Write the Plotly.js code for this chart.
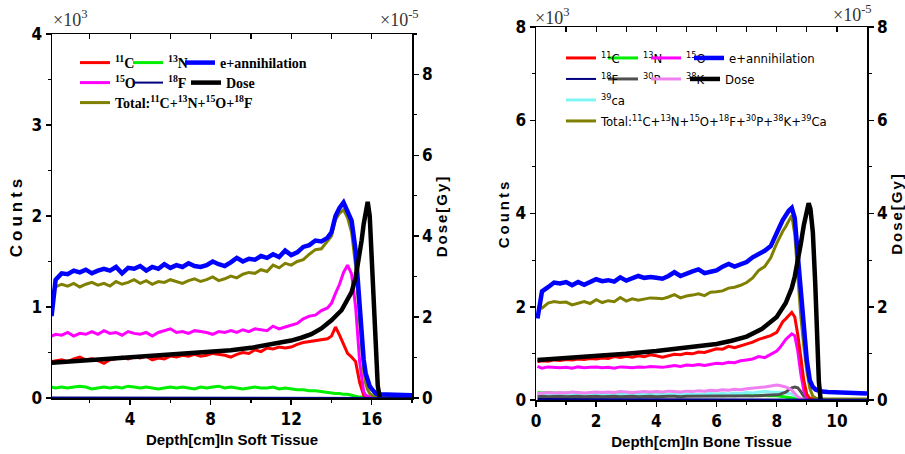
<!DOCTYPE html>
<html><head><meta charset="utf-8">
<script src="https://cdn.plot.ly/plotly-3.0.1.min.js"></script>
<style>
html,body{margin:0;padding:0;background:#fff;}
#chart{width:905px;height:454px;}
.ytitle{letter-spacing:4px;}
.y2title{letter-spacing:2px;}
.y3title{letter-spacing:3px;}
.y4title{letter-spacing:2px;}
</style>
</head><body><div id="chart"></div>
<script>
// ---------------- Soft tissue panel (counts in 10^3, dose in 10^-5 Gy) ----------------
var softX = [0.1,0.3,0.6,0.9,1.2,1.5,1.8,2.1,2.4,2.7,
  3.0,3.3,3.6,3.9,4.2,4.5,4.8,5.1,5.4,5.7,
  6.0,6.3,6.6,6.9,7.2,7.5,7.8,8.1,8.4,8.7,
  9.0,9.3,9.6,9.9,10.2,10.5,10.8,11.1,11.4,11.7,
  12.0,12.3,12.6,12.9,13.2,13.5,13.8,14.0,14.2,14.4,
  14.6,14.8,15.0,15.2,15.4,15.6,15.7,15.8,15.9,16.0,
  16.1,16.2,16.3,16.4,16.5,16.8,17.1,17.4,17.7,18.0];
var softAnnih = [0.90,1.30,1.37,1.36,1.40,1.38,1.41,1.37,1.40,1.42,
  1.40,1.44,1.37,1.43,1.42,1.45,1.40,1.44,1.42,1.47,
  1.43,1.46,1.44,1.48,1.45,1.44,1.46,1.50,1.47,1.45,
  1.49,1.54,1.50,1.53,1.52,1.56,1.54,1.58,1.55,1.62,
  1.57,1.60,1.66,1.68,1.73,1.72,1.76,1.82,2.00,2.09,
  2.15,2.06,1.95,1.62,1.00,0.42,0.27,0.19,0.13,0.10,
  0.07,0.05,0.04,0.04,0.03,0.04,0.03,0.04,0.03,0.03];
var softTotal = [1.15,1.22,1.25,1.23,1.26,1.22,1.25,1.27,1.24,1.26,
  1.23,1.28,1.25,1.27,1.30,1.26,1.29,1.25,1.28,1.27,
  1.30,1.28,1.26,1.29,1.31,1.28,1.30,1.33,1.29,1.31,
  1.34,1.32,1.36,1.38,1.37,1.41,1.39,1.46,1.43,1.48,
  1.46,1.50,1.52,1.58,1.63,1.64,1.72,1.78,1.96,2.03,
  2.07,1.98,1.82,1.45,0.85,0.30,0.16,0.09,0.05,0.03,
  0.02,0.01,0.01,0.01,0.01,0.01,0.01,0.01,0.01,0.01];
var softO15 = [0.68,0.70,0.69,0.72,0.68,0.71,0.70,0.73,0.70,0.74,
  0.71,0.72,0.69,0.73,0.71,0.70,0.72,0.68,0.72,0.74,
  0.76,0.72,0.73,0.71,0.74,0.73,0.72,0.70,0.73,0.72,
  0.74,0.72,0.75,0.73,0.76,0.75,0.74,0.79,0.76,0.78,
  0.80,0.82,0.87,0.90,0.91,0.96,0.99,1.04,1.15,1.25,
  1.38,1.46,1.36,1.00,0.40,0.07,0.03,0.02,0.01,0.01,
  0.01,0.01,0.01,0.01,0.01,0.01,0.01,0.01,0.01,0.01];
var softC11 = [0.40,0.41,0.42,0.40,0.43,0.45,0.42,0.43,0.41,0.38,
  0.42,0.43,0.45,0.43,0.45,0.44,0.46,0.42,0.44,0.43,
  0.46,0.45,0.47,0.46,0.48,0.46,0.47,0.49,0.48,0.47,
  0.45,0.48,0.50,0.49,0.53,0.51,0.55,0.54,0.56,0.55,
  0.56,0.59,0.61,0.62,0.63,0.64,0.65,0.68,0.78,0.69,
  0.58,0.49,0.45,0.40,0.17,0.03,0.02,0.02,0.01,0.01,
  0.01,0.01,0.00,0.00,0.00,0.00,0.00,0.00,0.00,0.00];
var softN13 = [0.12,0.11,0.12,0.11,0.12,0.13,0.12,0.10,0.11,0.12,
  0.11,0.12,0.11,0.13,0.12,0.11,0.12,0.11,0.10,0.11,
  0.12,0.11,0.12,0.11,0.10,0.12,0.11,0.12,0.13,0.11,
  0.12,0.11,0.10,0.11,0.12,0.11,0.11,0.12,0.10,0.11,
  0.10,0.09,0.09,0.08,0.08,0.07,0.06,0.06,0.05,0.05,
  0.04,0.04,0.03,0.02,0.01,0.01,0.00,0.00,0.00,0.00,
  0.00,0.00,0.00,0.00,0.00,0.00,0.00,0.00,0.00,0.00];
var softF18X = [0.1,4,8,12,16,18];
var softF18 = [0.006,0.005,0.006,0.004,0.002,0.001];
var softDoseX = [0.1,1,2,3,4,5,6,7,8,9,
  10,11,12,12.5,13,13.5,14,14.5,14.8,15.0,
  15.2,15.4,15.5,15.6,15.7,15.8,15.9,15.95,16.05,16.1,
  16.2,16.3,16.4];
var softDose = [0.87,0.90,0.93,0.97,1.00,1.03,1.06,1.09,1.13,1.18,
  1.24,1.32,1.42,1.49,1.58,1.72,1.92,2.17,2.42,2.62,
  2.98,3.50,3.90,4.30,4.68,4.85,4.50,3.95,2.75,2.10,
  1.10,0.30,0.00];

// ---------------- Bone tissue panel ----------------
var boneX = [0.05,0.2,0.4,0.6,0.8,1.0,1.2,1.4,1.6,1.8,
  2.0,2.2,2.4,2.6,2.8,3.0,3.2,3.4,3.6,3.8,
  4.0,4.2,4.4,4.6,4.8,5.0,5.2,5.4,5.6,5.8,
  6.0,6.2,6.4,6.6,6.8,7.0,7.2,7.4,7.6,7.8,
  8.0,8.1,8.2,8.3,8.4,8.5,8.6,8.7,8.8,8.9,
  9.0,9.1,9.2,9.3,9.4,9.5,9.7,10.0,10.3,10.6,
  11.0];
var boneAnnih = [1.75,2.33,2.42,2.52,2.50,2.53,2.46,2.53,2.47,2.52,
  2.59,2.55,2.57,2.54,2.63,2.56,2.61,2.66,2.62,2.64,
  2.62,2.60,2.66,2.74,2.66,2.72,2.76,2.80,2.72,2.75,
  2.78,2.86,2.92,2.86,2.90,2.96,3.06,3.12,3.20,3.30,
  3.55,3.72,3.86,3.98,4.06,4.12,3.90,3.10,2.30,1.50,
  0.85,0.42,0.28,0.22,0.20,0.18,0.17,0.16,0.16,0.15,
  0.14];
var boneTotal = [2.00,1.97,2.08,2.11,2.09,2.10,2.04,2.08,2.11,2.07,
  2.15,2.09,2.13,2.11,2.20,2.12,2.17,2.14,2.16,2.19,
  2.18,2.17,2.21,2.26,2.19,2.23,2.25,2.28,2.24,2.31,
  2.32,2.34,2.40,2.42,2.46,2.52,2.62,2.78,2.86,3.05,
  3.36,3.50,3.62,3.72,3.84,3.96,3.55,2.60,1.80,1.15,
  0.62,0.25,0.08,0.04,0.03,0.02,0.02,0.02,0.02,0.02,
  0.02];
var boneC11 = [0.82,0.84,0.83,0.86,0.85,0.87,0.86,0.88,0.87,0.89,
  0.88,0.90,0.89,0.93,0.91,0.94,0.92,0.95,0.93,0.97,
  0.95,0.92,0.95,0.98,0.97,1.00,0.99,1.03,1.02,1.06,
  1.10,1.09,1.15,1.12,1.16,1.21,1.24,1.30,1.34,1.38,
  1.45,1.58,1.68,1.74,1.80,1.88,1.78,1.40,0.92,0.42,
  0.12,0.04,0.02,0.01,0.01,0.01,0.01,0.01,0.01,0.01,
  0.01];
var boneO15 = [0.72,0.68,0.71,0.70,0.69,0.70,0.68,0.71,0.69,0.70,
  0.71,0.69,0.70,0.68,0.71,0.70,0.69,0.71,0.70,0.72,
  0.71,0.70,0.72,0.74,0.72,0.75,0.74,0.76,0.74,0.77,
  0.79,0.78,0.81,0.80,0.84,0.86,0.88,0.93,0.91,0.98,
  1.05,1.12,1.22,1.30,1.36,1.42,1.38,1.05,0.56,0.20,
  0.05,0.02,0.01,0.01,0.01,0.01,0.01,0.01,0.01,0.01,
  0.01];
var boneN13 = [0.16,0.15,0.16,0.15,0.14,0.15,0.14,0.15,0.14,0.13,
  0.14,0.13,0.14,0.13,0.12,0.13,0.12,0.13,0.12,0.12,
  0.11,0.12,0.11,0.12,0.11,0.10,0.11,0.10,0.11,0.10,
  0.10,0.09,0.10,0.09,0.10,0.09,0.09,0.10,0.09,0.09,
  0.09,0.08,0.08,0.07,0.06,0.05,0.04,0.02,0.01,0.00,
  0.00,0.00,0.00,0.00,0.00,0.00,0.00,0.00,0.00,0.00,
  0.00];
var boneCa39 = [0.11,0.12,0.11,0.12,0.11,0.12,0.12,0.11,0.12,0.11,
  0.12,0.11,0.12,0.12,0.11,0.12,0.11,0.12,0.12,0.11,
  0.12,0.11,0.12,0.13,0.12,0.12,0.13,0.12,0.13,0.14,
  0.13,0.14,0.13,0.15,0.14,0.16,0.15,0.17,0.18,0.17,
  0.17,0.16,0.16,0.15,0.14,0.13,0.10,0.06,0.03,0.01,
  0.00,0.00,0.00,0.00,0.00,0.00,0.00,0.00,0.00,0.00,
  0.00];
var boneK38 = [0.14,0.15,0.16,0.15,0.16,0.15,0.17,0.16,0.15,0.16,
  0.17,0.16,0.17,0.16,0.18,0.17,0.16,0.17,0.18,0.17,
  0.18,0.17,0.19,0.18,0.17,0.19,0.18,0.20,0.19,0.21,
  0.20,0.22,0.21,0.23,0.22,0.24,0.25,0.27,0.28,0.30,
  0.32,0.31,0.30,0.28,0.25,0.21,0.14,0.07,0.03,0.01,
  0.00,0.00,0.00,0.00,0.00,0.00,0.00,0.00,0.00,0.00,
  0.00];
var boneP30 = [0.07,0.08,0.07,0.08,0.08,0.07,0.08,0.08,0.07,0.08,
  0.08,0.07,0.08,0.08,0.07,0.08,0.08,0.07,0.08,0.08,
  0.07,0.08,0.08,0.08,0.07,0.08,0.08,0.08,0.09,0.08,
  0.08,0.09,0.08,0.09,0.09,0.08,0.09,0.09,0.10,0.10,
  0.11,0.12,0.14,0.17,0.22,0.26,0.28,0.26,0.18,0.08,
  0.03,0.01,0.00,0.00,0.00,0.00,0.00,0.00,0.00,0.00,
  0.00];
var boneF18X = [0.05,3,6,8.5,9.5,11];
var boneF18 = [0.02,0.02,0.02,0.02,0.005,0.005];
var boneDoseX = [0.05,1,2,3,4,5,6,6.5,7,7.5,
  8.0,8.3,8.5,8.6,8.7,8.8,8.9,9.0,9.06,9.12,
  9.2,9.28,9.34,9.4,9.46];
var boneDose = [0.86,0.90,0.94,0.99,1.05,1.12,1.20,1.27,1.36,1.52,
  1.78,2.08,2.40,2.65,2.95,3.35,3.75,4.10,4.22,4.10,
  3.60,2.50,1.40,0.40,0.00];

// ---------------- labels ----------------
var softNames = ['<sup>11</sup>C','<sup>13</sup>N','e+annihilation','<sup>15</sup>O','<sup>18</sup>F','Dose',
  'Total:<sup>11</sup>C+<sup>13</sup>N+<sup>15</sup>O+<sup>18</sup>F'];
var boneNames = ['<sup>11</sup>C','<sup>13</sup>N','<sup>15</sup>O','e+annihilation','<sup>18</sup>F','<sup>30</sup>P','<sup>38</sup>K','Dose',
  '<sup>39</sup>ca','Total:<sup>11</sup>C+<sup>13</sup>N+<sup>15</sup>O+<sup>18</sup>F+<sup>30</sup>P+<sup>38</sup>K+<sup>39</sup>Ca'];
var softXTitle = 'Depth[cm]In Soft Tissue';
var boneXTitle = 'Depth[cm]In Bone Tissue';
var countsTitle = 'Counts';
var doseTitle = 'Dose[Gy]';
var countsScale = '×10<sup>3</sup>';
var doseScale = '×10<sup>-5</sup>';

function ln(x, y, name, color, width, xa, ya, leg) {
  return {type:'scatter', mode:'lines', x:x, y:y, name:name, xaxis:xa, yaxis:ya,
    line:{color:color, width:width}, legend:leg, hoverinfo:'skip'};
}

var data = [
  // soft tissue
  ln(softX, softN13, softNames[1], '#00ee00', 3, 'x', 'y', 'legend2'),
  ln(softX, softC11, softNames[0], '#ff0000', 3, 'x', 'y', 'legend'),
  ln(softX, softO15, softNames[3], '#ff00ff', 3, 'x', 'y', 'legend4'),
  ln(softX, softTotal, softNames[6], '#808000', 3, 'x', 'y', 'legend7'),
  ln(softX, softAnnih, softNames[2], '#0000ff', 4.5, 'x', 'y', 'legend3'),
  ln(softF18X, softF18, softNames[4], '#000080', 2, 'x3', 'y', 'legend5'),
  ln(softDoseX, softDose, softNames[5], '#000000', 4.5, 'x', 'y2', 'legend6'),
  // bone tissue
  ln(boneX, boneN13, boneNames[1], '#00ee00', 3, 'x2', 'y3', 'legend9'),
  ln(boneX, boneCa39, boneNames[8], '#7ff5f5', 3, 'x2', 'y3', 'legend16'),
  ln(boneX, boneP30, boneNames[5], '#505050', 3, 'x2', 'y3', 'legend13'),
  ln(boneX, boneK38, boneNames[6], '#f080f0', 3, 'x2', 'y3', 'legend14'),
  ln(boneX, boneO15, boneNames[2], '#ff00ff', 3, 'x2', 'y3', 'legend10'),
  ln(boneX, boneC11, boneNames[0], '#ff0000', 3, 'x2', 'y3', 'legend8'),
  ln(boneX, boneTotal, boneNames[9], '#808000', 3, 'x2', 'y3', 'legend17'),
  ln(boneX, boneAnnih, boneNames[3], '#0000ff', 4.5, 'x2', 'y3', 'legend11'),
  ln(boneF18X, boneF18, boneNames[4], '#000080', 2, 'x4', 'y3', 'legend12'),
  ln(boneDoseX, boneDose, boneNames[7], '#000000', 4.5, 'x2', 'y4', 'legend15')
];

var W = 905, H = 454;
var tickFont = {family:'Liberation Sans Narrow, DejaVu Sans Condensed, Liberation Sans, sans-serif', size:17, weight:'bold', color:'#000'};
var titleFont = {family:'Liberation Sans, Arial, sans-serif', size:15, weight:'bold', color:'#000'};
var softLegFont = {family:'Liberation Serif, serif', size:14, weight:'bold', color:'#000'};
var boneLegFont = {family:'Liberation Sans Narrow, DejaVu Sans Condensed, Liberation Sans, sans-serif', size:13, color:'#000'};
var scaleFont = {family:'Liberation Serif, serif', size:18, color:'#333'};

function axisBase(extra) {
  var a = {showgrid:false, zeroline:false, showline:true, linecolor:'#000', linewidth:1.5,
    ticks:'outside', ticklen:5, tickwidth:1.5, tickcolor:'#000', tickfont:tickFont, tickmode:'linear'};
  for (var k in extra) a[k] = extra[k];
  return a;
}
function minorT(d) { return {tick0:0, dtick:d, ticks:'outside', ticklen:3, tickwidth:1.2, tickcolor:'#000'}; }
function topAxis(over, anch, rng, d) {
  return {overlaying:over, side:'top', anchor:anch, range:rng, tickmode:'linear', tick0:0, dtick:d,
    ticks:'inside', ticklen:5, tickwidth:1.2, tickcolor:'#000', showticklabels:false, showline:false,
    showgrid:false, zeroline:false};
}
function leg(px, py, font) {
  return {x:px/W, y:1-py/H, xanchor:'left', yanchor:'middle', orientation:'h',
    bgcolor:'rgba(0,0,0,0)', borderwidth:0, font:font, itemwidth:30, itemclick:false, itemdoubleclick:false};
}
function scaleNote(text, px, py) {
  return {text:text, x:px/W, y:1-py/H, xref:'paper', yref:'paper', showarrow:false,
    xanchor:'center', yanchor:'middle', font:scaleFont};
}

var layout = {
  width:W, height:H, margin:{l:0,r:0,t:0,b:0},
  paper_bgcolor:'#fff', plot_bgcolor:'#fff', showlegend:true,
  xaxis: axisBase({domain:[52/W, 412/W], range:[0.12,18], anchor:'y', tick0:0, dtick:4, mirror:true,
    minor:minorT(2), title:{text:softXTitle, font:titleFont, standoff:6}}),
  yaxis: axisBase({domain:[1-398/H, 1-34/H], range:[0,4], anchor:'x', tick0:0, dtick:1,
    minor:minorT(0.5),
    title:{text:countsTitle, font:{family:titleFont.family, size:17, weight:'bold', color:'#000'}, standoff:4}}),
  yaxis2: axisBase({overlaying:'y', side:'right', anchor:'x', range:[0,9], tick0:0, dtick:2,
    minor:minorT(1), title:{text:doseTitle, font:titleFont, standoff:4}}),
  xaxis3: topAxis('x', 'y', [0.12,18], 2),
  xaxis2: axisBase({domain:[536/W, 867/W], range:[0,11], anchor:'y3', tick0:0, dtick:2, mirror:true,
    minor:minorT(1), title:{text:boneXTitle, font:titleFont, standoff:6}}),
  yaxis3: axisBase({domain:[1-400/H, 1-27/H], range:[0,8], anchor:'x2', tick0:0, dtick:2,
    minor:minorT(1), title:{text:countsTitle, font:titleFont, standoff:2}}),
  yaxis4: axisBase({overlaying:'y3', side:'right', anchor:'x2', range:[0,8], tick0:0, dtick:2,
    minor:minorT(1), title:{text:doseTitle, font:titleFont, standoff:0}}),
  xaxis4: topAxis('x2', 'y3', [0,11], 1),
  legend:   leg(75, 63, softLegFont),
  legend2:  leg(128, 63, softLegFont),
  legend3:  leg(180, 63, softLegFont),
  legend4:  leg(75, 83, softLegFont),
  legend5:  leg(128, 83, softLegFont),
  legend6:  leg(186, 83, softLegFont),
  legend7:  leg(75, 103, softLegFont),
  legend8:  leg(561, 58, boneLegFont),
  legend9:  leg(603, 58, boneLegFont),
  legend10: leg(646, 58, boneLegFont),
  legend11: leg(689, 58, boneLegFont),
  legend12: leg(561, 79, boneLegFont),
  legend13: leg(603, 79, boneLegFont),
  legend14: leg(646, 79, boneLegFont),
  legend15: leg(685, 79, boneLegFont),
  legend16: leg(561, 100, boneLegFont),
  legend17: leg(561, 121, boneLegFont),
  annotations: [
    scaleNote(countsScale, 70, 19),
    scaleNote(doseScale, 399, 19),
    scaleNote(countsScale, 552, 16),
    scaleNote(doseScale, 852, 13)
  ]
};

Plotly.newPlot('chart', data, layout, {staticPlot:true, displayModeBar:false});
</script></body></html>
